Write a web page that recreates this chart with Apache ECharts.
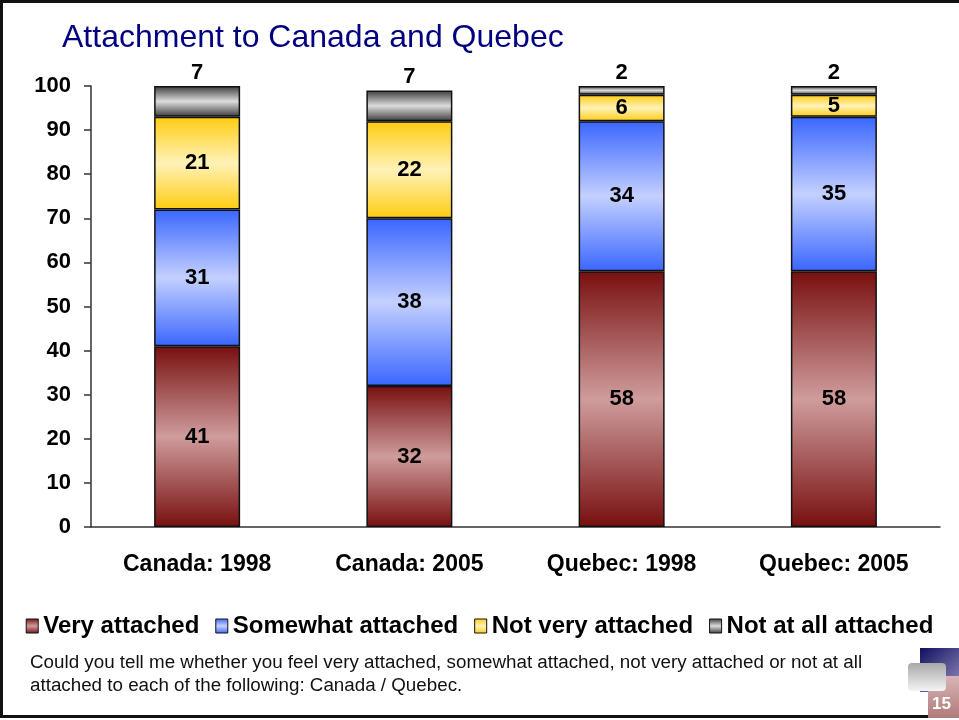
<!DOCTYPE html>
<html>
<head>
<meta charset="utf-8">
<script src="https://cdn.jsdelivr.net/npm/echarts@6/dist/echarts.min.js"></script>
<style>
html,body{margin:0;padding:0;background:#fff;}
#chart{width:959px;height:720px;}
</style>
</head>
<body>
<div id="chart"></div>
<script>
// data
var categories = ['Canada: 1998', 'Canada: 2005', 'Quebec: 1998', 'Quebec: 2005'];
var veryAttached = [41, 32, 58, 58];
var somewhatAttached = [31, 38, 34, 35];
var notVeryAttached = [21, 22, 6, 5];
var notAtAllAttached = [7, 7, 2, 2];
var yTicks = [0, 10, 20, 30, 40, 50, 60, 70, 80, 90, 100];

var myChart = echarts.init(document.getElementById('chart'));

function grad(dark, light) {
	return new echarts.graphic.LinearGradient(0, 0, 0, 1, [
		{offset: 0, color: dark},
		{offset: 0.5, color: light},
		{offset: 1, color: dark}
	]);
}

var labelStyle = {show: true, position: 'inside', fontFamily: 'Liberation Sans', fontSize: 22, fontWeight: 'bold', color: '#000'};

function serie(name, data, dark, light, pos) {
	return {
		name: name,
		type: 'bar',
		stack: 'total',
		barWidth: 86,
		data: data,
		itemStyle: {color: grad(dark, light), borderColor: '#111', borderWidth: 1.5},
		label: Object.assign({}, labelStyle, pos ? {position: pos, distance: 2} : {})
	};
}

var option = {
	animation: false,
	title: {
		text: 'Attachment to Canada and Quebec',
		left: 57, top: 17,
		textStyle: {fontFamily: 'Liberation Sans', fontSize: 32, fontWeight: 'normal', color: '#000080'}
	},
	legend: {
		bottom: 77, left: 'center',
		icon: 'rect', itemWidth: 12, itemHeight: 14, itemGap: 16,
		textStyle: {fontFamily: 'Liberation Sans', fontSize: 24, fontWeight: 'bold', color: '#000'},
		itemStyle: {borderColor: '#111', borderWidth: 1}
	},
	grid: {left: 91, right: 19, top: 86, bottom: 193},
	xAxis: {
		type: 'category',
		data: categories,
		axisLine: {lineStyle: {color: '#333', width: 1.5}},
		axisTick: {length: 7, lineStyle: {color: '#333', width: 1.5}},
		axisLabel: {margin: 26, fontFamily: 'Liberation Sans', fontSize: 23, fontWeight: 'bold', color: '#000'}
	},
	yAxis: {
		type: 'value',
		min: 0, max: 100, interval: 10,
		splitLine: {show: false},
		axisLine: {show: true, lineStyle: {color: '#333', width: 1.5}},
		axisTick: {show: true, length: 7, lineStyle: {color: '#333', width: 1.5}},
		axisLabel: {margin: 20, fontFamily: 'Liberation Sans', fontSize: 22, fontWeight: 'bold', color: '#000',
			formatter: function (v) { return yTicks.indexOf(v) >= 0 ? v : ''; }}
	},
	series: [
		serie('Very attached', veryAttached, '#780f0f', '#cf9c9c'),
		serie('Somewhat attached', somewhatAttached, '#3a66ff', '#c4d0ff'),
		serie('Not very attached', notVeryAttached, '#ffcc11', '#fff2b8'),
		serie('Not at all attached', notAtAllAttached, '#3a3a3a', '#dcdcdc', 'top')
	],
	graphic: [
		// slide frame
		{type: 'rect', shape: {x: 1.5, y: 1.5, width: 968, height: 715}, style: {fill: null, stroke: '#111', lineWidth: 3}, silent: true},
		{type: 'text', left: 30, top: 651, style: {
			text: 'Could you tell me whether you feel very attached, somewhat attached, not very attached or not at all\nattached to each of the following: Canada / Quebec.',
			fontFamily: 'Liberation Sans', fontSize: 18.8, lineHeight: 23, fill: '#111'}},
		// page number badge
		{type: 'rect', shape: {x: 920, y: 648, width: 40, height: 44}, style: {fill: new echarts.graphic.LinearGradient(0, 0, 1, 1, [{offset: 0, color: '#101060'}, {offset: 1, color: '#9a8fc0'}])}},
		{type: 'rect', shape: {x: 928, y: 676, width: 32, height: 42}, style: {fill: new echarts.graphic.LinearGradient(0, 0, 0, 1, [{offset: 0, color: '#d9b5b5'}, {offset: 1, color: '#b07a7a'}])}},
		{type: 'rect', shape: {x: 908, y: 663, width: 38, height: 28, r: 4}, style: {fill: new echarts.graphic.LinearGradient(0, 0, 0, 1, [{offset: 0, color: '#a8a8a8'}, {offset: 1, color: '#f4f4f4'}])}},
		{type: 'text', left: 932, top: 696, style: {text: '15', fontFamily: 'Liberation Sans', fontSize: 17, fontWeight: 'bold', fill: '#fff'}}
	]
};

myChart.setOption(option);
</script>
</body>
</html>
